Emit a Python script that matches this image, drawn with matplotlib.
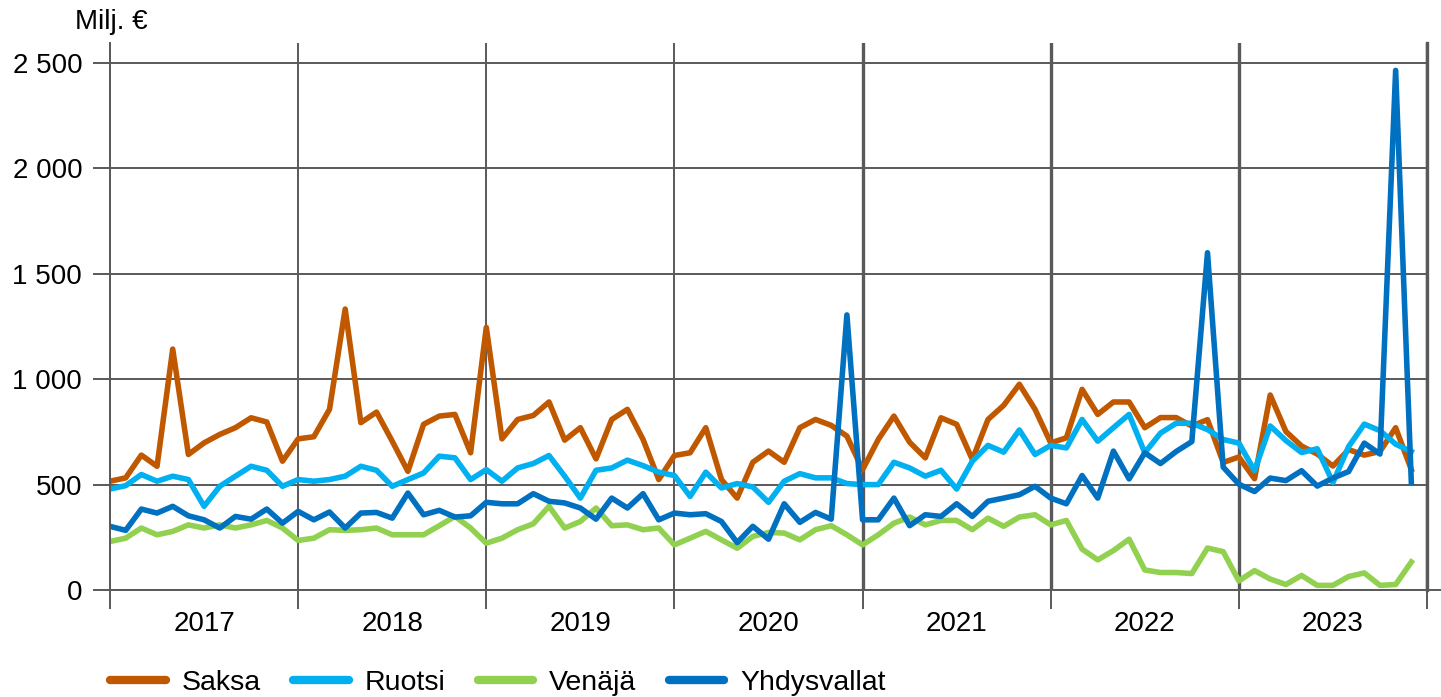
import numpy as np
import matplotlib.pyplot as plt

plt.rcParams['font.family'] = ['Liberation Sans', 'DejaVu Sans']

# kuukausiarvot 2017-2023, milj. euroa
saksa = [516, 532, 640, 587, 1143, 643, 698, 738, 770, 817, 797, 611,
         717, 727, 857, 1333, 794, 844, 706, 563, 786, 825, 833, 651,
         1246, 717, 809, 828, 892, 711, 770, 622, 809, 857, 714, 524,
         638, 651, 770, 524, 436, 606, 659, 606, 770, 809, 781, 730,
         571, 714, 825, 701, 627, 817, 786, 619, 809, 876, 976, 857,
         698, 722, 952, 833, 892, 892, 770, 818, 818, 778, 808, 605,
         631, 528, 925, 752, 683, 645, 588, 666, 640, 657, 770, 571]
ruotsi = [479, 495, 548, 516, 540, 524, 397, 492, 540, 587, 568, 492,
          524, 516, 524, 540, 587, 568, 492, 524, 555, 635, 627, 524,
          571, 516, 579, 600, 638, 540, 436, 568, 579, 616, 590, 559,
          543, 444, 559, 484, 505, 489, 416, 516, 552, 532, 532, 505,
          500, 500, 606, 579, 540, 568, 479, 611, 686, 654, 759, 643,
          686, 674, 809, 706, 770, 833, 651, 744, 791, 791, 761, 714,
          697, 566, 778, 709, 652, 670, 510, 680, 787, 756, 692, 657]
venaja = [230, 246, 294, 262, 278, 309, 294, 309, 294, 309, 330, 294,
          235, 246, 286, 283, 286, 294, 262, 262, 262, 305, 349, 294,
          222, 246, 286, 314, 397, 294, 325, 389, 305, 309, 286, 294,
          214, 246, 278, 238, 198, 254, 273, 270, 238, 286, 305, 262,
          214, 262, 317, 346, 309, 330, 330, 286, 341, 302, 346, 357,
          309, 330, 194, 143, 187, 241, 95, 83, 83, 78, 199, 182,
          43, 92, 52, 26, 69, 22, 22, 64, 81, 22, 26, 133]
yhdysvallat = [302, 283, 384, 365, 397, 352, 333, 294, 349, 336, 384, 317,
               373, 333, 370, 294, 365, 368, 341, 460, 357, 378, 346, 352,
               416, 409, 409, 457, 421, 413, 389, 336, 436, 389, 457, 333,
               365, 357, 362, 325, 225, 302, 241, 409, 321, 368, 336, 1305,
               333, 333, 436, 305, 357, 349, 409, 349, 421, 436, 452, 492,
               436, 409, 543, 436, 659, 527, 651, 600, 657, 704, 1600, 583,
               502, 467, 531, 519, 566, 493, 531, 562, 697, 645, 2465, 510]
years = ['2017', '2018', '2019', '2020', '2021', '2022', '2023']

grey = '#595959'

fig = plt.figure(figsize=(14.41, 6.97), dpi=100)
ax = fig.add_axes([110/1441, 1-590/697, (1427-110)/1441, (590-43)/697])

x = np.arange(len(saksa))
ax.plot(x, saksa, color='#C05800', lw=4, label='Saksa')
ax.plot(x, ruotsi, color='#00B0F0', lw=4, label='Ruotsi')
ax.plot(x, venaja, color='#92D050', lw=4, label='Venäjä')
ax.plot(x, yhdysvallat, color='#0070C0', lw=4, label='Yhdysvallat')

ax.set_xlim(0, 12*len(years))
ax.set_ylim(0, 2595)

ax.set_xticks(np.arange(0, 12*len(years)+1, 12))
ax.set_xticklabels([])
ax.set_xticks(np.arange(6, 12*len(years), 12), minor=True)
ax.set_xticklabels(years, minor=True, fontsize=20)
ax.tick_params(axis='x', which='major', length=14, width=1.4, color=grey)
ax.tick_params(axis='x', which='minor', length=0, pad=15)

yt = np.arange(0, 2501, 500)
ax.set_yticks(yt)
ax.set_yticklabels(['{:,}'.format(v).replace(',', ' ') for v in yt], fontsize=20)
ax.tick_params(axis='y', length=12, width=1.4, color=grey, pad=8)

ax.grid(True, which='major', color=grey, lw=1.4)
for i, gl in enumerate(ax.get_xgridlines()):
    if i >= 4:
        gl.set_linewidth(2.4)
# oikea reuna
ax.axvline(12*len(years), color=grey, lw=2.4, clip_on=False, zorder=0.5)
ax.set_axisbelow(True)

for s in ['top', 'right']:
    ax.spines[s].set_visible(False)
ax.spines['left'].set_color(grey)
ax.spines['left'].set_linewidth(1.4)
ax.spines['bottom'].set_color(grey)
ax.spines['bottom'].set_linewidth(1.4)
ax.spines['bottom'].set_bounds(0, 84.9)

fig.text(75/1441, 1-22/697, 'Milj. €', fontsize=20, va='center', ha='left')

leg = ax.legend(loc='center left', bbox_to_anchor=(110/1441, 1-683/697),
                bbox_transform=fig.transFigure, ncol=4, frameon=False,
                fontsize=20.5, borderpad=0, borderaxespad=0, handlelength=1.95,
                handletextpad=0.55, columnspacing=1.15)
for h in leg.get_lines():
    h.set_linewidth(6)
    h.set_solid_capstyle('round')

plt.savefig('out.png', dpi=100)
